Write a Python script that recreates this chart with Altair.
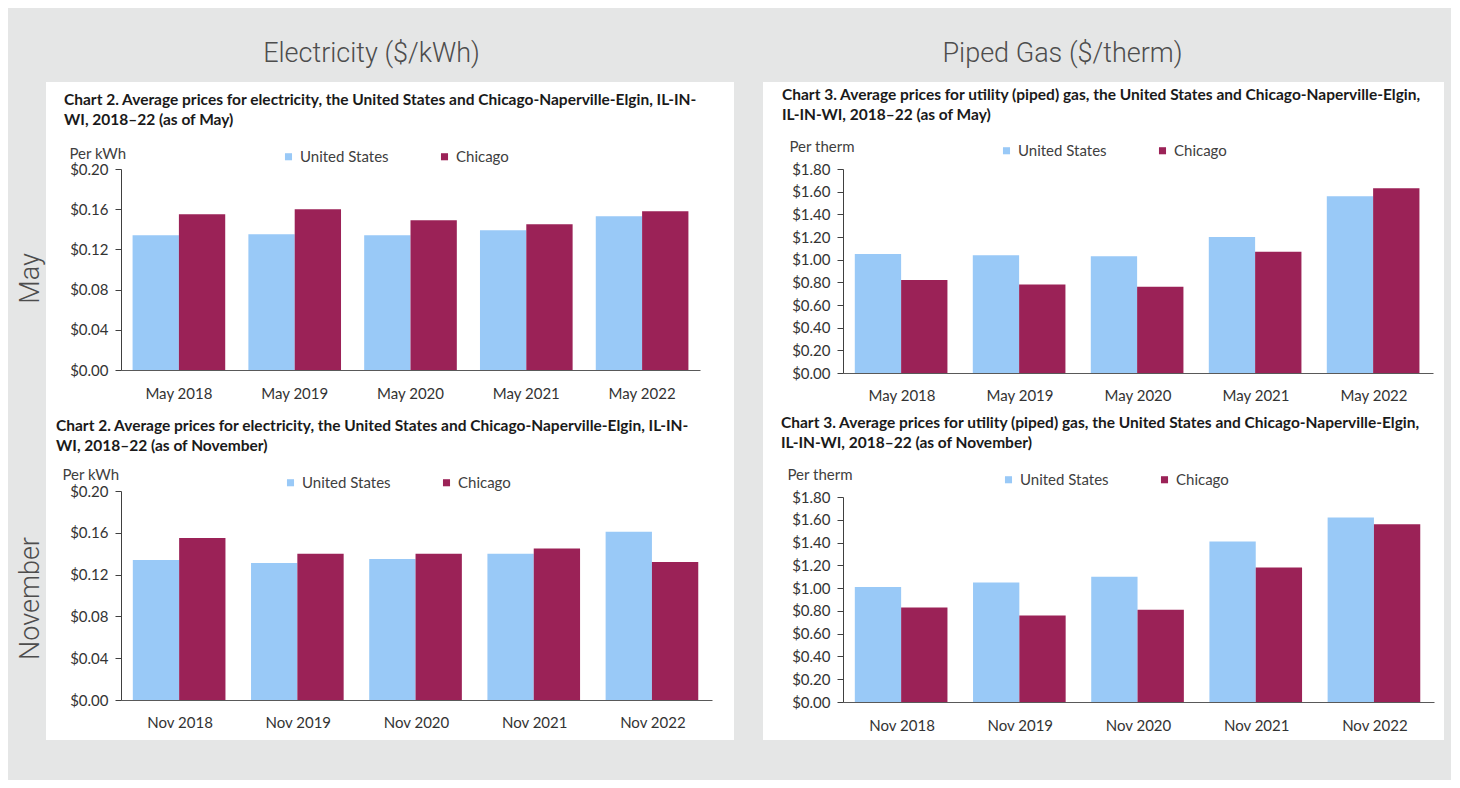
import altair as alt
import pandas as pd

# ---------------- data ----------------
series_names = ["United States", "Chicago"]
periods_may = ["May 2018", "May 2019", "May 2020", "May 2021", "May 2022"]
periods_nov = ["Nov 2018", "Nov 2019", "Nov 2020", "Nov 2021", "Nov 2022"]

elec_may_us = [0.134, 0.135, 0.134, 0.139, 0.153]
elec_may_chi = [0.155, 0.160, 0.149, 0.145, 0.158]
elec_nov_us = [0.134, 0.131, 0.135, 0.140, 0.161]
elec_nov_chi = [0.155, 0.140, 0.140, 0.145, 0.132]

gas_may_us = [1.05, 1.04, 1.03, 1.20, 1.56]
gas_may_chi = [0.82, 0.78, 0.76, 1.07, 1.63]
gas_nov_us = [1.01, 1.05, 1.10, 1.41, 1.62]
gas_nov_chi = [0.83, 0.76, 0.81, 1.18, 1.56]

elec_ticks = [0.00, 0.04, 0.08, 0.12, 0.16, 0.20]
gas_ticks = [0.0, 0.2, 0.4, 0.6, 0.8, 1.0, 1.2, 1.4, 1.6, 1.8]

col_headers = ["Electricity ($/kWh)", "Piped Gas ($/therm)"]
row_labels = ["May", "November"]

title_elec = "Chart 2. Average prices for electricity, the United States and Chicago-Naperville-Elgin, IL-IN-"
title_gas = "Chart 3. Average prices for utility (piped) gas, the United States and Chicago-Naperville-Elgin,"

US_COLOR = "#99c9f7"
CHI_COLOR = "#9b2257"
BG = "#e5e6e6"
FONT = "Lato"
FS = 15
HEAD = dict(font="Roboto", fontSize=27, fontWeight=300, color="#4d4d4d")


def panel(periods, us, chi, ymax, yticks, unit, title_lines, w, h, ext,
          legend_xy, title_dx, title_offset, axis_title_xy, label_pad,
          row_label=None, label_dy=0):
    df = pd.DataFrame({
        "period": periods * 2,
        "series": [series_names[0]] * len(periods) + [series_names[1]] * len(periods),
        "price": us + chi,
    })
    l, r, t, b = ext
    bg = alt.Chart(pd.DataFrame({"k": [0]})).mark_rect(color="white").encode(
        x=alt.value(-l), x2=alt.value(w + r), y=alt.value(-t), y2=alt.value(h + b)
    )
    bars = alt.Chart(df).mark_bar().encode(
        x=alt.X("period:N", sort=periods,
                scale=alt.Scale(paddingInner=0.2, paddingOuter=0.1),
                axis=alt.Axis(title=None, labelAngle=0, ticks=False, labelPadding=label_pad,
                              domainColor="#595959", labelFont=FONT, labelFontSize=FS,
                              labelColor="#333333", zindex=1)),
        xOffset=alt.XOffset("series:N", sort=series_names,
                            scale=alt.Scale(paddingInner=0, paddingOuter=0)),
        y=alt.Y("price:Q", scale=alt.Scale(domain=[0, ymax], nice=False, zero=True),
                axis=alt.Axis(values=yticks, format="$.2f", title=unit, titleAngle=0,
                              titleAlign="left", titleBaseline="middle",
                              titleX=axis_title_xy[0], titleY=axis_title_xy[1],
                              titleFont=FONT, titleFontSize=FS, titleFontWeight="normal",
                              titleColor="#404040", grid=False, tickSize=6,
                              labelPadding=7, domainColor="#404040", tickColor="#404040",
                              labelFont=FONT, labelFontSize=FS, labelColor="#333333",
                              zindex=1)),
        color=alt.Color("series:N", sort=series_names,
                        scale=alt.Scale(domain=series_names, range=[US_COLOR, CHI_COLOR]),
                        legend=alt.Legend(title=None, orient="none",
                                          legendX=legend_xy[0], legendY=legend_xy[1],
                                          direction="horizontal", symbolType="square",
                                          symbolSize=50, symbolStrokeWidth=0,
                                          columnPadding=48, labelOffset=4,
                                          labelFont=FONT, labelFontSize=FS,
                                          labelColor="#404040")),
    )
    layers = [bg, bars]
    if row_label is not None:
        lab = alt.Chart(pd.DataFrame({"label": [row_label]})).mark_text(
            angle=270, align="center", baseline="middle", **HEAD
        ).encode(x=alt.value(-l - 15), y=alt.value(h / 2 + label_dy), text="label:N")
        layers.append(lab)
    return alt.layer(*layers).properties(
        width=w, height=h,
        title=alt.TitleParams(text=title_lines, anchor="start", frame="group",
                              dx=title_dx, offset=title_offset, font=FONT, fontSize=15.5,
                              fontWeight="bold", color="#1a1a1a", lineHeight=20),
    )


tl = panel(periods_may, elec_may_us, elec_may_chi, 0.20, elec_ticks, "Per kWh",
           [title_elec, "WI, 2018–22 (as of May)"], 579, 201, (75, 34, 87, 37),
           (160, -20), -57, -46, (-52, -16), 16, row_labels[0], 9)
bl = panel(periods_nov, elec_nov_us, elec_nov_chi, 0.20, elec_ticks, "Per kWh",
           [title_elec, "WI, 2018–22 (as of November)"], 591, 209, (75, 22, 84, 40),
           (162, -16), -65, -47, (-59, -17), 15, row_labels[1], 3)
tr = panel(periods_may, gas_may_us, gas_may_chi, 1.80, gas_ticks, "Per therm",
           [title_gas, "IL-IN-WI, 2018–22 (as of May)"], 590, 204, (80, 11, 87, 35),
           (156, -26), -61, -41, (-54, -23), 15)
br = panel(periods_nov, gas_nov_us, gas_nov_chi, 1.80, gas_ticks, "Per therm",
           [title_gas, "IL-IN-WI, 2018–22 (as of November)"], 591, 205, (80, 10, 89, 38),
           (158, -25), -62, -43, (-56, -23), 16)

left_col = alt.vconcat(tl, bl, spacing=0).resolve_scale(color="independent").resolve_legend(
    color="independent").properties(
    title=alt.TitleParams(col_headers[0], anchor="middle", dx=-4, offset=14, **HEAD))

right_col = alt.vconcat(tr, br, spacing=0).resolve_scale(color="independent").resolve_legend(
    color="independent").properties(
    title=alt.TitleParams(col_headers[1], anchor="middle", dx=-41, offset=14, **HEAD))

chart = alt.hconcat(left_col, right_col, spacing=29).resolve_scale(
    color="independent").resolve_legend(color="independent").properties(
    background=BG,
    padding={"left": 9, "top": 32, "right": 7, "bottom": 40},
).configure_view(stroke=None)

chart.save("out.html", embed_options={"renderer": "svg", "actions": False})
